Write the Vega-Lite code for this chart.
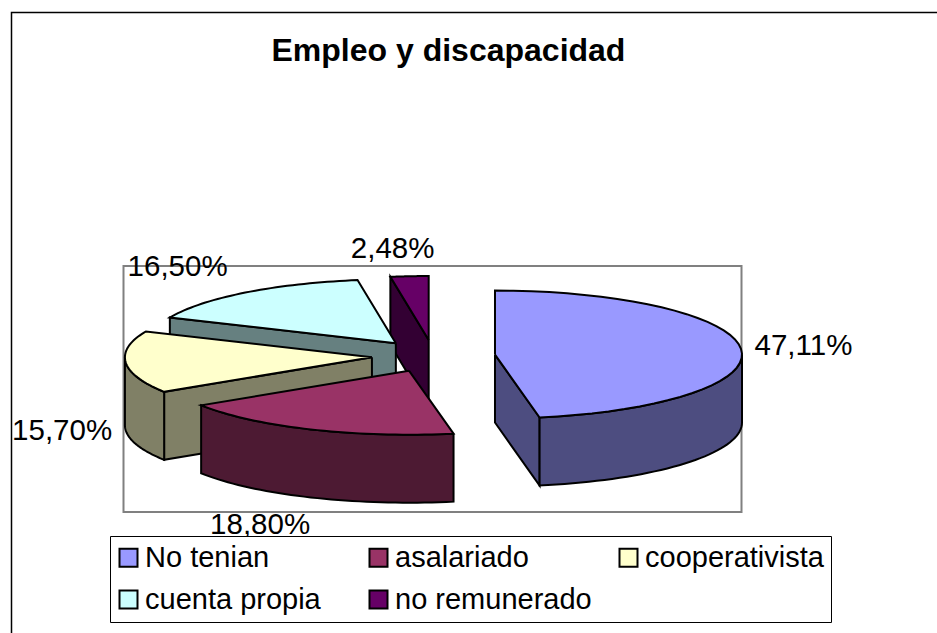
{
  "$schema": "https://vega.github.io/schema/vega-lite/v6.json",
  "width": 618,
  "height": 246,
  "autosize": {"type": "none"},
  "padding": {"left": 123.5, "top": 266, "right": 195.5, "bottom": 121},
  "background": "white",
  "config": {"view": {"stroke": "#808080", "strokeWidth": 2}, "font": "Liberation Sans"},
  "title": {"text": "Empleo y discapacidad", "font": "Liberation Sans", "fontSize": 32, "fontWeight": "bold", "color": "black", "anchor": "start", "frame": "group", "dx": 148, "offset": -81, "baseline": "alphabetic"},
  "data": {"values": [
    {"slice": "no remunerado", "value": 2.48},
    {"slice": "cuenta propia", "value": 16.5},
    {"slice": "cooperativista", "value": 15.7},
    {"slice": "asalariado", "value": 18.8},
    {"slice": "No tenian", "value": 47.11}
  ]},
  "transform": [
    {"calculate": "indexof(['No tenian','asalariado','cooperativista','cuenta propia','no remunerado'],datum.slice)", "as": "ord"},
    {"window": [{"op": "sum", "field": "value", "as": "cum"}], "sort": [{"field": "ord", "order": "ascending"}]},
    {"calculate": "min((datum.cum-datum.value)/100,0.9752)*2*PI", "as": "th0"},
    {"calculate": "(datum.ord==4?1:min(datum.cum/100,0.9752))*2*PI", "as": "th1"},
    {"calculate": "(datum.th0+datum.th1)/2", "as": "mid"},
    {"calculate": "433.5+0.25*247*sin(datum.mid)", "as": "ax"},
    {"calculate": "356-0.25*64*cos(datum.mid)", "as": "ay"}
  ],
  "layer": [
    {
      "data": {"values": [{"box": "chart"}]},
      "transform": [],
      "mark": {"type": "rect", "fill": null, "stroke": "black", "strokeWidth": 1.5},
      "encoding": {
        "x": {"datum": 11.5, "type": "quantitative", "scale": {"domain": [123.5, 741.5], "nice": false, "zero": false}, "axis": null},
        "x2": {"datum": 960},
        "y": {"datum": 12.5, "type": "quantitative", "scale": {"domain": [512, 266], "nice": false, "zero": false}, "axis": null},
        "y2": {"datum": 660}
      }
    },
    {
      "transform": [
        {"calculate": "['side','wall','top']", "as": "face"},
        {"flatten": ["face"]},
        {"calculate": "sin(datum.th0)<-0.000001?datum.th0:(sin(datum.th1)>0.000001?datum.th1:null)", "as": "sideAng"},
        {"calculate": "max(datum.th0,PI/2)", "as": "wa"},
        {"calculate": "min(datum.th1,3*PI/2)", "as": "wb"},
        {"filter": "datum.face=='top'||(datum.face=='side'&&datum.sideAng!==null)||(datum.face=='wall'&&datum.wb>datum.wa)"},
        {"calculate": "sequence(0,datum.face=='side'?5:(datum.face=='wall'?83:43))", "as": "idx"},
        {"flatten": ["idx"]},
        {"calculate": "datum.face=='top'?datum.th0+clamp(datum.idx-1,0,40)/40*(datum.th1-datum.th0):(datum.face=='wall'?(datum.idx<=40?datum.wa+datum.idx/40*(datum.wb-datum.wa):(datum.idx<=81?datum.wb-(datum.idx-41)/40*(datum.wb-datum.wa):datum.wa)):datum.sideAng)", "as": "ang"},
        {"calculate": "datum.face=='top'?((datum.idx==0||datum.idx==42)?0:1):(datum.face=='wall'?1:((datum.idx==1||datum.idx==2)?1:0))", "as": "r"},
        {"calculate": "datum.face=='wall'?((datum.idx>40&&datum.idx<=81)?68:0):(datum.face=='side'?((datum.idx==2||datum.idx==3)?68:0):0)", "as": "drop"},
        {"calculate": "datum.ax+datum.r*247*sin(datum.ang)", "as": "px"},
        {"calculate": "datum.ay-datum.r*64*cos(datum.ang)+datum.drop", "as": "py"},
        {"calculate": "datum.slice+' '+datum.face", "as": "part"},
        {"calculate": "datum.face=='top'?datum.slice:datum.slice+' lado'", "as": "paint"}
      ],
      "mark": {"type": "line", "stroke": "black", "strokeWidth": 2, "strokeJoin": "miter", "interpolate": "linear"},
      "encoding": {
        "x": {"field": "px", "type": "quantitative", "scale": {"domain": [123.5, 741.5], "nice": false, "zero": false}, "axis": null},
        "y": {"field": "py", "type": "quantitative", "scale": {"domain": [512, 266], "nice": false, "zero": false}, "axis": null},
        "detail": {"field": "part"},
        "order": {"field": "idx", "type": "quantitative"},
        "fill": {
          "field": "paint",
          "type": "nominal",
          "scale": {
            "domain": ["No tenian", "asalariado", "cooperativista", "cuenta propia", "no remunerado", "No tenian lado", "asalariado lado", "cooperativista lado", "cuenta propia lado", "no remunerado lado"],
            "range": ["#9999FF", "#993366", "#FFFFCC", "#CCFFFF", "#660066", "#4D4D80", "#4D1A33", "#808066", "#668080", "#330033"]
          },
          "legend": {
            "values": ["No tenian", "asalariado", "cooperativista", "cuenta propia", "no remunerado"],
            "title": null,
            "orient": "none",
            "direction": "horizontal",
            "legendX": -13.5,
            "legendY": 270,
            "columns": 3,
            "gridAlign": "all",
            "columnPadding": 23,
            "rowPadding": 12,
            "padding": 7,
            "strokeColor": "black",
            "fillColor": "white",
            "symbolType": "square",
            "symbolSize": 324,
            "symbolStrokeColor": "black",
            "symbolStrokeWidth": 2,
            "symbolOffset": -3,
            "labelOffset": 2,
            "labelFont": "Liberation Sans",
            "labelFontSize": 29,
            "labelColor": "black",
            "labelLimit": 400
          }
        }
      }
    },
    {
      "transform": [
        {"calculate": "replace(format(datum.value,'.2f'),'.',',')+'%'", "as": "label"},
        {"calculate": "datum.ord==0?[1,-1]:(datum.ord==1?[-26,13]:(datum.ord==2?[-2,0]:(datum.ord==3?[-30,-13]:[-12,-11])))", "as": "nudge"},
        {"calculate": "datum.ax+1.25*247*sin(datum.mid)+datum.nudge[0]", "as": "lx"},
        {"calculate": "datum.ay-1.25*64*cos(datum.mid)+(cos(datum.mid)<0?68:0)+datum.nudge[1]", "as": "ly"}
      ],
      "mark": {"type": "text", "font": "Liberation Sans", "fontSize": 29.5, "color": "black", "align": "center", "baseline": "middle"},
      "encoding": {
        "x": {"field": "lx", "type": "quantitative", "scale": {"domain": [123.5, 741.5], "nice": false, "zero": false}, "axis": null},
        "y": {"field": "ly", "type": "quantitative", "scale": {"domain": [512, 266], "nice": false, "zero": false}, "axis": null},
        "text": {"field": "label", "type": "nominal"}
      }
    }
  ]
}
